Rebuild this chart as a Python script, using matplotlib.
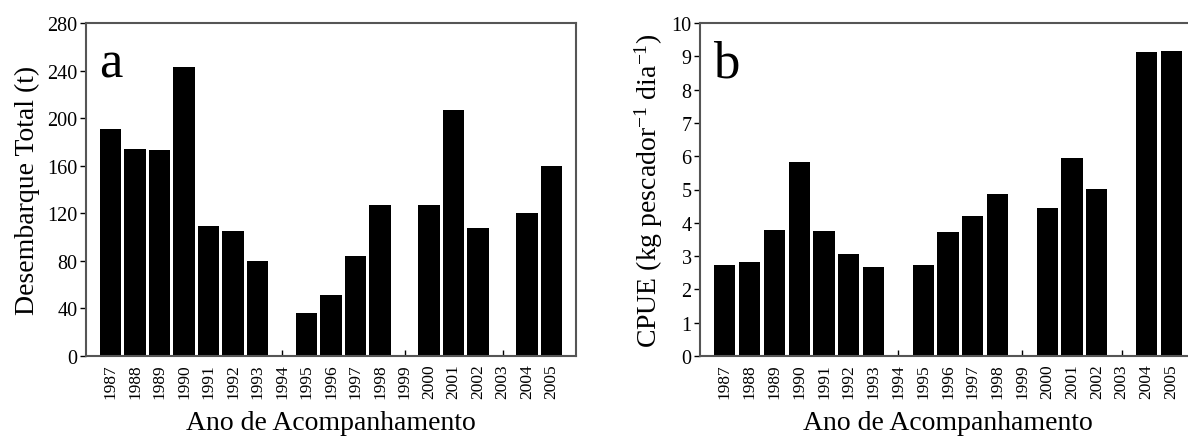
import numpy as np
import matplotlib
matplotlib.use('Agg')
import matplotlib.pyplot as plt

# Dados
years = ['1987', '1988', '1989', '1990', '1991', '1992', '1993', '1994', '1995', '1996',
         '1997', '1998', '1999', '2000', '2001', '2002', '2003', '2004', '2005']
desembarque = [191, 174, 173, 243, 109, 105, 80, 0, 36, 51,
               84, 127, 0, 127, 207, 108, 0, 120, 160]
cpue = [2.73, 2.82, 3.78, 5.82, 3.75, 3.06, 2.67, 0, 2.73, 3.72,
        4.20, 4.86, 0, 4.44, 5.94, 5.01, 0, 9.12, 9.15]

plt.rcParams['font.family'] = ['Liberation Serif', 'DejaVu Serif']
plt.rcParams['mathtext.fontset'] = 'custom'
plt.rcParams['mathtext.rm'] = 'Liberation Serif'
plt.rcParams['mathtext.it'] = 'Liberation Serif:italic'

fig = plt.figure(figsize=(11.88, 4.39), dpi=100)
ax1 = fig.add_axes([86/1188, 82/439, 490/1188, 333/439])
ax2 = fig.add_axes([700/1188, 82/439, 496/1188, 333/439])

x = np.arange(len(years))


def style(ax, vals, yticks, ylabel, letter):
    ax.bar(x, vals, width=0.86, color='black', edgecolor='none')
    ax.set_xlim(-1, len(years))
    ax.set_ylim(yticks[0], yticks[-1])
    ax.set_yticks(yticks)
    ax.set_xticks(x)
    ax.set_xticklabels(years, rotation=90, fontsize=12.5)
    ax.tick_params(axis='y', direction='out', length=4, width=1, labelsize=14.5, pad=2)
    ax.tick_params(axis='x', direction='in', length=4, width=1, pad=5)
    for s in ax.spines.values():
        s.set_color('#555555')
        s.set_linewidth(1.5)
    ax.set_xlabel('Ano de Acompanhamento', fontsize=20, labelpad=9)
    ax.set_ylabel(ylabel, fontsize=20, labelpad=5)
    ax.text(0.027, 0.84, letter, transform=ax.transAxes, fontsize=38, va='baseline')


style(ax1, desembarque, list(range(0, 281, 40)), 'Desembarque Total (t)', 'a')
style(ax2, cpue, list(range(0, 11)), r'CPUE (kg pescador$^{\mathrm{-1}}$ dia$^{\mathrm{-1}}$)', 'b')

fig.savefig('out.png', dpi=100)
